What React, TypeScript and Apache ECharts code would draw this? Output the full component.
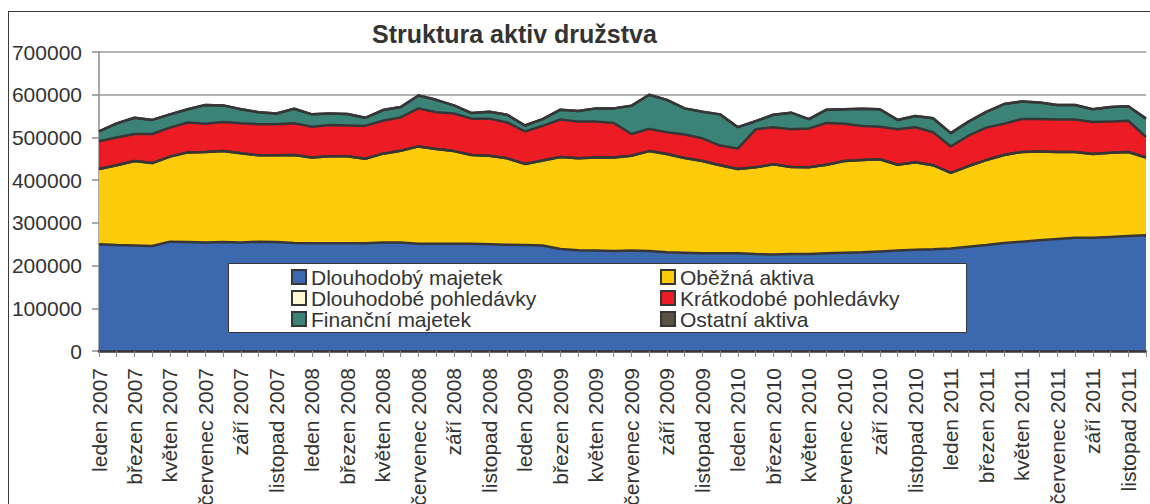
import React, { useEffect, useRef } from "react";
import * as echarts from "echarts";

const months = ["leden", "únor", "březen", "duben", "květen", "červen", "červenec", "srpen", "září", "říjen", "listopad", "prosinec"];
const years = [2007, 2008, 2009, 2010, 2011];
const categories = years.flatMap((y) => months.map((m) => `${m} ${y}`));

const dlouhodobyMajetek = [
  250000, 248000, 247000, 246000, 256000, 255000, 254000, 255000, 254000, 256000,
  255000, 253000, 252000, 252000, 252000, 252000, 254000, 254000, 251000, 251000,
  251000, 251000, 250000, 249000, 248000, 247000, 239000, 236000, 235000, 234000,
  235000, 234000, 231000, 230000, 229000, 229000, 229000, 227000, 226000, 227000,
  227000, 229000, 230000, 231000, 233000, 235000, 237000, 238000, 240000, 244000,
  248000, 253000, 256000, 259000, 262000, 265000, 265000, 267000, 269000, 271000,
];
const obeznaAktiva = [
  176000, 187000, 198000, 194000, 199000, 210000, 212000, 213000, 209000, 202000,
  203000, 206000, 201000, 204000, 204000, 198000, 208000, 215000, 228000, 222000,
  217000, 208000, 207000, 202000, 190000, 199000, 215000, 215000, 218000, 219000,
  222000, 234000, 230000, 222000, 216000, 206000, 197000, 203000, 211000, 204000,
  203000, 207000, 215000, 216000, 216000, 201000, 205000, 197000, 177000, 189000,
  199000, 206000, 210000, 208000, 204000, 201000, 196000, 197000, 197000, 182000,
];
const dlouhodobePohledavky = [
  0, 0, 0, 0, 0, 0, 0, 0, 0, 0, 0, 0, 0, 0, 0, 0, 0, 0, 0, 0,
  0, 0, 0, 0, 0, 0, 0, 0, 0, 0, 0, 0, 0, 0, 0, 0, 0, 0, 0, 0,
  0, 0, 0, 0, 0, 0, 0, 0, 0, 0, 0, 0, 0, 0, 0, 0, 0, 0, 0, 0,
];
const kratkodobePohledavky = [
  65000, 65000, 63000, 68000, 68000, 70000, 66000, 68000, 70000, 73000,
  73000, 74000, 72000, 73000, 72000, 77000, 77000, 78000, 89000, 86000,
  88000, 85000, 87000, 84000, 76000, 81000, 88000, 86000, 84000, 81000,
  51000, 52000, 51000, 55000, 53000, 46000, 48000, 89000, 87000, 88000,
  91000, 98000, 87000, 80000, 76000, 83000, 82000, 77000, 62000, 71000,
  76000, 73000, 77000, 76000, 76000, 76000, 75000, 73000, 73000, 48000,
];
const financniMajetek = [
  23000, 33000, 38000, 33000, 31000, 31000, 44000, 39000, 33000, 28000,
  25000, 34000, 29000, 27000, 27000, 19000, 25000, 24000, 30000, 29000,
  19000, 13000, 16000, 18000, 14000, 16000, 23000, 25000, 31000, 34000,
  66000, 80000, 76000, 61000, 62000, 73000, 50000, 19000, 29000, 39000,
  22000, 31000, 34000, 40000, 41000, 22000, 26000, 33000, 31000, 33000,
  37000, 46000, 41000, 39000, 34000, 34000, 30000, 34000, 34000, 43000,
];
const ostatniAktiva = [
  0, 0, 0, 0, 0, 0, 0, 0, 0, 0, 0, 0, 0, 0, 0, 0, 0, 0, 0, 0,
  0, 0, 0, 0, 0, 0, 0, 0, 0, 0, 0, 0, 0, 0, 0, 0, 0, 0, 0, 0,
  0, 0, 0, 0, 0, 0, 0, 0, 0, 0, 0, 0, 0, 0, 0, 0, 0, 0, 0, 0,
];

const seriesDefs = [
  { name: "Dlouhodobý majetek", data: dlouhodobyMajetek, color: "#3C68B0" },
  { name: "Oběžná aktiva", data: obeznaAktiva, color: "#FCCB0A" },
  { name: "Dlouhodobé pohledávky", data: dlouhodobePohledavky, color: "#FFF9D4" },
  { name: "Krátkodobé pohledávky", data: kratkodobePohledavky, color: "#ED1C24" },
  { name: "Finanční majetek", data: financniMajetek, color: "#3A8376" },
  { name: "Ostatní aktiva", data: ostatniAktiva, color: "#5A5242" },
];

const FONT = "'Liberation Sans', Arial, Helvetica, sans-serif";
const OUTLINE = "#363636";
const TEXT = "#333333";

export default function App() {
  const ref = useRef<HTMLDivElement>(null);

  useEffect(() => {
    document.body.style.margin = "0";
    document.body.style.overflow = "hidden";
    if (!ref.current) return;
    const chart = echarts.init(ref.current, undefined, { renderer: "svg" });

    const areaSeries = seriesDefs.map((s) => ({
      name: s.name,
      type: "line",
      stack: "assets",
      data: s.data,
      symbol: "none",
      smooth: false,
      itemStyle: { color: s.color },
      lineStyle: { width: 0, color: OUTLINE },
      areaStyle: { color: s.color, opacity: 1 },
      z: 2,
      silent: true,
    }));

    const outlineSeries = seriesDefs.map((s) => ({
      name: s.name + " ",
      type: "line",
      stack: "outlines",
      data: s.data,
      symbol: "none",
      smooth: false,
      itemStyle: { color: OUTLINE },
      lineStyle: { width: 2.5, color: OUTLINE },
      z: 3,
      silent: true,
    }));

    const legendCommon = {
      orient: "vertical",
      top: 254.5,
      padding: 0,
      itemGap: 0,
      itemWidth: 14,
      itemHeight: 14,
      icon: "rect",
      selectedMode: false,
      z: 20,
      itemStyle: { borderColor: OUTLINE, borderWidth: 2 },
      textStyle: { fontSize: 21, fontFamily: FONT, color: TEXT, lineHeight: 20.5 },
    };

    chart.setOption({
      animation: false,
      backgroundColor: "#ffffff",
      title: {
        text: "Struktura aktiv družstva",
        left: 363,
        top: 9,
        padding: 0,
        textStyle: { fontSize: 25, fontWeight: "bold", fontFamily: FONT, color: TEXT },
      },
      legend: [
        { ...legendCommon, left: 282, data: ["Dlouhodobý majetek", "Dlouhodobé pohledávky", "Finanční majetek"] },
        { ...legendCommon, left: 651, data: ["Oběžná aktiva", "Krátkodobé pohledávky", "Ostatní aktiva"] },
      ],
      graphic: [
        {
          type: "rect",
          z: 10,
          shape: { x: 219.5, y: 251.5, width: 738, height: 69 },
          style: { fill: "#ffffff", stroke: OUTLINE, lineWidth: 1 },
          silent: true,
        },
      ],
      grid: {
        left: 90,
        top: 40,
        width: 1047,
        height: 299,
        containLabel: false,
        outerBoundsMode: "none",
      },
      xAxis: {
        type: "category",
        data: categories,
        boundaryGap: false,
        axisLine: { lineStyle: { color: OUTLINE, width: 2.5 } },
        axisTick: { show: true, interval: 0, length: 6, lineStyle: { color: "#888888", width: 1 } },
        axisLabel: {
          interval: 1,
          rotate: 90,
          margin: 17,
          fontSize: 21,
          fontFamily: FONT,
          color: TEXT,
        },
        splitLine: { show: false },
        z: 5,
      },
      yAxis: {
        type: "value",
        min: 0,
        max: 700000,
        interval: 100000,
        axisLine: { show: true, lineStyle: { color: "#8c8c8c", width: 1.5 } },
        axisTick: { show: true, length: 7, lineStyle: { color: "#8c8c8c", width: 1.5 } },
        axisLabel: {
          margin: 17,
          fontSize: 21,
          fontFamily: FONT,
          color: TEXT,
          formatter: (v: number) => String(v),
        },
        splitLine: { show: true, lineStyle: { color: "#9a9a9a", width: 1.5 } },
      },
      series: [...areaSeries, ...outlineSeries],
    });

    return () => {
      chart.dispose();
    };
  }, []);

  return (
    <div style={{ paddingTop: 11, paddingLeft: 8, width: 1142, height: 493 }}>
      <div
        style={{
          width: 1142,
          height: 493,
          borderTop: "1px solid #3a3a3a",
          borderLeft: "1px solid #3a3a3a",
          overflow: "hidden",
          boxSizing: "border-box",
        }}
      >
        <div ref={ref} style={{ width: 1141, height: 492 }} />
      </div>
    </div>
  );
}
